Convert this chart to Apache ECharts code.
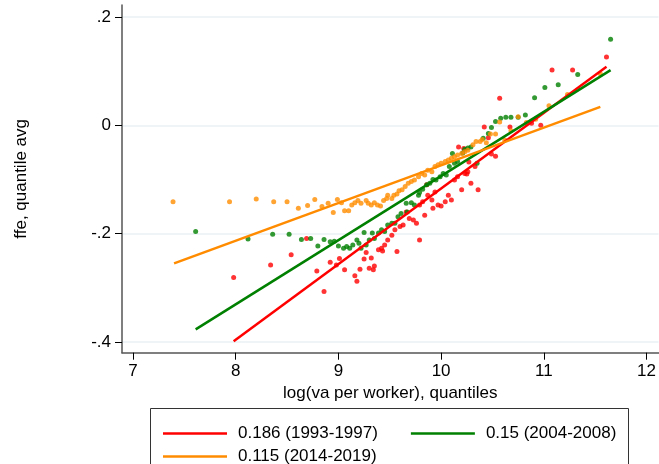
<!DOCTYPE html>
<html>
<head>
<meta charset="utf-8">
<script src="https://cdn.jsdelivr.net/npm/echarts@6/dist/echarts.min.js"></script>
<style>
  html, body { margin: 0; padding: 0; background: #fff; }
  #chart { width: 659px; height: 464px; }
</style>
</head>
<body>
<div id="chart"></div>
<script>
// quantile averages
var redPts = [[7.98,-0.281],[8.34,-0.258],[8.54,-0.239],[8.69,-0.209],[8.79,-0.269],[8.86,-0.307],[8.92,-0.253],[8.98,-0.258],
  [9.01,-0.246],[9.06,-0.267],[9.16,-0.278],[9.18,-0.288],[9.21,-0.266],[9.25,-0.247],[9.27,-0.235],[9.30,-0.264],[9.32,-0.245],
  [9.34,-0.267],[9.35,-0.260],[9.39,-0.230],[9.42,-0.227],[9.43,-0.232],[9.45,-0.221],[9.48,-0.212],[9.52,-0.203],[9.55,-0.193],
  [9.57,-0.233],[9.60,-0.187],[9.63,-0.184],[9.66,-0.160],[9.69,-0.172],[9.73,-0.175],[9.76,-0.181],[9.79,-0.147],[9.79,-0.212],
  [9.82,-0.141],[9.84,-0.166],[9.86,-0.110],[9.87,-0.129],[9.91,-0.138],[9.92,-0.153],[9.94,-0.123],[9.97,-0.147],[10.00,-0.149],
  [10.04,-0.141],[10.07,-0.129],[10.10,-0.138],[10.13,-0.101],[10.16,-0.095],[10.17,-0.040],[10.20,-0.119],[10.22,-0.043],
  [10.23,-0.089],[10.25,-0.090],[10.26,-0.086],[10.27,-0.068],[10.29,-0.107],[10.33,-0.076],[10.36,-0.119],[10.42,-0.003],
  [10.46,-0.023],[10.49,-0.053],[10.53,-0.057],[10.57,0.050],[10.67,-0.003],[10.88,0.004],[10.97,0.000],[11.08,0.102],
  [11.28,0.102],[11.61,0.126]]
var greenPts = [[7.61,-0.196],[8.12,-0.210],[8.36,-0.201],[8.52,-0.201],[8.64,-0.211],[8.73,-0.209],[8.80,-0.223],[8.86,-0.211],
  [8.92,-0.215],[8.96,-0.214],[9.00,-0.223],[9.05,-0.227],[9.08,-0.224],[9.11,-0.227],[9.14,-0.221],[9.18,-0.212],[9.20,-0.218],
  [9.22,-0.227],[9.25,-0.198],[9.27,-0.221],[9.30,-0.212],[9.33,-0.199],[9.35,-0.209],[9.39,-0.199],[9.42,-0.193],[9.45,-0.196],
  [9.48,-0.184],[9.52,-0.181],[9.55,-0.181],[9.58,-0.169],[9.61,-0.163],[9.66,-0.144],[9.67,-0.160],[9.71,-0.143],[9.74,-0.147],
  [9.78,-0.129],[9.79,-0.124],[9.82,-0.118],[9.86,-0.110],[9.89,-0.107],[9.92,-0.100],[9.95,-0.101],[9.99,-0.095],[10.02,-0.089],
  [10.05,-0.092],[10.08,-0.076],[10.11,-0.052],[10.13,-0.070],[10.16,-0.067],[10.21,-0.051],[10.23,-0.044],[10.26,-0.042],
  [10.29,-0.040],[10.35,-0.070],[10.41,-0.024],[10.46,-0.015],[10.49,-0.004],[10.53,0.007],[10.58,0.013],[10.63,0.015],
  [10.68,0.015],[10.75,0.015],[10.82,0.019],[10.91,0.051],[11.01,0.070],[11.14,0.075],[11.33,0.094],[11.65,0.159]]
var orangePts = [[7.39,-0.141],[7.94,-0.141],[8.20,-0.136],[8.37,-0.141],[8.50,-0.141],[8.61,-0.153],[8.70,-0.148],[8.77,-0.137],
  [8.84,-0.150],[8.90,-0.144],[8.95,-0.161],[8.99,-0.137],[9.03,-0.143],[9.06,-0.158],[9.10,-0.158],[9.13,-0.147],[9.16,-0.143],
  [9.19,-0.139],[9.22,-0.144],[9.27,-0.139],[9.29,-0.144],[9.32,-0.147],[9.35,-0.143],[9.38,-0.147],[9.41,-0.149],[9.44,-0.139],
  [9.47,-0.135],[9.48,-0.129],[9.52,-0.135],[9.54,-0.129],[9.57,-0.127],[9.59,-0.121],[9.62,-0.119],[9.65,-0.113],[9.68,-0.107],
  [9.71,-0.104],[9.74,-0.101],[9.78,-0.095],[9.81,-0.089],[9.84,-0.092],[9.87,-0.083],[9.91,-0.086],[9.94,-0.076],[9.97,-0.073],
  [10.00,-0.070],[10.04,-0.067],[10.07,-0.064],[10.10,-0.061],[10.13,-0.058],[10.16,-0.055],[10.20,-0.052],[10.23,-0.049],
  [10.26,-0.046],[10.31,-0.036],[10.34,-0.030],[10.38,-0.030],[10.40,-0.026],[10.44,-0.032],[10.48,-0.016],[10.53,-0.016],
  [10.57,0.006],[10.62,-0.027],[10.68,-0.010],[10.75,0.016],[10.83,0.005],[10.92,0.011],[11.05,0.036],[11.23,0.057],[11.55,0.095]]

// fitted lines (end points)
var redFit = [[7.98,-0.399],[11.61,0.108]]
var greenFit = [[7.61,-0.377],[11.65,0.102]]
var orangeFit = [[7.40,-0.255],[11.55,0.034]]

var names = ['0.186 (1993-1997)', '0.15 (2004-2008)', '0.115 (2014-2019)']
var colors = ['#ff0000', '#008000', '#ff8c00']
var xTicks = [7, 8, 9, 10, 11, 12]
var yTicks = [-0.4, -0.2, 0, 0.2]

var font = 'Liberation Sans, Arial, sans-serif'
var chart = echarts.init(document.getElementById('chart'))

function dots (data, color) {
  return {
    type: 'scatter',
    data: data,
    symbolSize: 5,
    itemStyle: { color: color },
    silent: true
  }
}
function fit (name, data, color) {
  return {
    name: name,
    type: 'line',
    data: data,
    symbol: 'none',
    lineStyle: { color: color, width: 2.5 },
    itemStyle: { color: color },
    silent: true
  }
}

chart.setOption({
  animation: false,
  backgroundColor: '#fff',
  textStyle: { fontFamily: font },
  grid: { left: 122, right: 0, top: 5, bottom: 111.3 },
  xAxis: {
    type: 'value',
    min: 6.893,
    max: 12.117,
    name: 'log(va per worker), quantiles',
    nameLocation: 'middle',
    nameGap: 27,
    nameTextStyle: { fontSize: 17, color: '#000', fontFamily: font },
    axisLine: { show: true, onZero: false, lineStyle: { color: '#555', width: 1.5 } },
    axisTick: { show: true, customValues: xTicks, length: 7, lineStyle: { color: '#000' } },
    axisLabel: { customValues: xTicks, fontSize: 17, color: '#000', margin: 10, fontFamily: font },
    splitLine: { show: false }
  },
  yAxis: {
    type: 'value',
    min: -0.42,
    max: 0.2222,
    name: 'ffe, quantile avg',
    nameLocation: 'middle',
    nameGap: 92,
    nameTextStyle: { fontSize: 17, color: '#000', fontFamily: font },
    axisLine: { show: true, onZero: false, lineStyle: { color: '#555', width: 1.5 } },
    axisTick: { show: true, customValues: yTicks, length: 7, lineStyle: { color: '#000' } },
    axisLabel: {
      customValues: yTicks,
      fontSize: 17,
      color: '#000',
      margin: 11,
      fontFamily: font,
      formatter: function (v) {
        return String(Math.round(v * 10) / 10).replace('0.', '.')
      }
    },
    splitLine: { show: true, lineStyle: { color: '#eaf2f3', width: 1.5 } }
  },
  legend: [{
    data: [names[0], names[1]],
    left: 158,
    top: 420,
    icon: 'rect',
    itemWidth: 64,
    itemHeight: 2.5,
    itemGap: 33,
    textStyle: { fontSize: 17, color: '#000', fontFamily: font, padding: [0, 0, 0, 6] }
  }, {
    data: [names[2]],
    left: 158,
    top: 443,
    icon: 'rect',
    itemWidth: 64,
    itemHeight: 2.5,
    textStyle: { fontSize: 17, color: '#000', fontFamily: font, padding: [0, 0, 0, 6] }
  }],
  graphic: [{
    type: 'rect',
    shape: { x: 150.5, y: 408.5, width: 478, height: 80 },
    style: { fill: 'none', stroke: '#333', lineWidth: 1 },
    silent: true
  }],
  series: [
    dots(redPts, colors[0]),
    dots(greenPts, colors[1]),
    dots(orangePts, colors[2]),
    fit(names[0], redFit, colors[0]),
    fit(names[1], greenFit, colors[1]),
    fit(names[2], orangeFit, colors[2])
  ]
})
</script>
</body>
</html>
